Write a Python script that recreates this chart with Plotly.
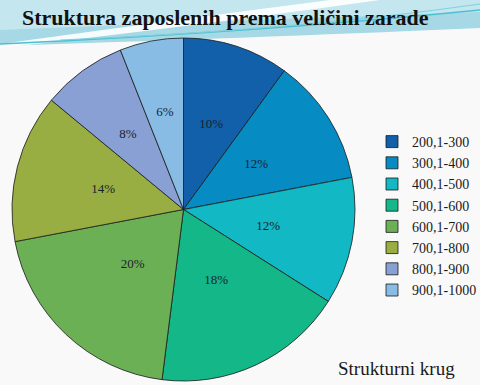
import plotly.graph_objects as go

W, H = 480, 385

categories = ["200,1-300", "300,1-400", "400,1-500", "500,1-600",
              "600,1-700", "700,1-800", "800,1-900", "900,1-1000"]
shares = [10, 12, 12, 18, 20, 14, 8, 6]
colors = ["#1260aa", "#068cc2", "#12b8c4", "#14b888",
          "#6cb056", "#98ad42", "#88a0d4", "#88bce4"]

title_text = "Struktura zaposlenih prema veličini zarade"
note_text = "Strukturni krug"

# pie geometry (pixels)
CX, CY, R = 183.5, 209.5, 171.5
R_LABEL = 118


def P(x, y):
    return f"{x / W:.4f},{1 - y / H:.4f}"


def path(pts, close=True):
    cmds = []
    for c, *xy in pts:
        if c in ("M", "L"):
            cmds.append(f"{c}{P(*xy)}")
        elif c == "Q":
            cmds.append(f"Q{P(xy[0], xy[1])} {P(xy[2], xy[3])}")
    return " ".join(cmds) + (" Z" if close else "")


def dom(r):
    return dict(x=[(CX - r) / W, (CX + r) / W],
                y=[(H - CY - r) / H, (H - CY + r) / H])


shapes = [
    dict(type="path", xref="paper", yref="paper", layer="below", line=dict(width=0),
         fillcolor="#a6d8e6",
         path=path([("M", 0, 0), ("L", 480, 0), ("L", 480, 28),
                    ("Q", 300, 36, 0, 46)])),
    dict(type="path", xref="paper", yref="paper", layer="below", line=dict(width=0),
         fillcolor="#c4e6ef",
         path=path([("M", 0, 0), ("L", 480, 0), ("L", 480, 12),
                    ("Q", 250, 20, 0, 30)])),
    dict(type="path", xref="paper", yref="paper", layer="below", line=dict(width=0),
         fillcolor="rgba(255,255,255,0.9)",
         path=path([("M", 0, 44), ("Q", 160, 22, 330, 0), ("L", 380, 0),
                    ("Q", 180, 28, 0, 48)])),
    dict(type="path", xref="paper", yref="paper", layer="below",
         line=dict(color="#4cc0d0", width=1.5),
         path=path([("M", 0, 44), ("Q", 260, 32, 480, 10)], close=False)),
    dict(type="path", xref="paper", yref="paper", layer="below",
         line=dict(color="#7fd0dc", width=1),
         path=path([("M", 60, 40), ("Q", 300, 30, 480, 4)], close=False)),
]

fig = go.Figure()
fig.add_trace(go.Pie(
    labels=categories,
    values=shares,
    sort=False,
    direction="clockwise",
    rotation=0,
    marker=dict(colors=colors, line=dict(color="#1a1a1a", width=0.8)),
    textinfo="none",
    domain=dom(R),
    showlegend=True,
    hoverinfo="label+percent",
))
# transparent inner copy that only carries the percentage labels
fig.add_trace(go.Pie(
    labels=categories,
    values=shares,
    sort=False,
    direction="clockwise",
    rotation=0,
    marker=dict(colors=["rgba(0,0,0,0)"] * len(shares), line=dict(width=0)),
    texttemplate="%{percent:.0%}",
    textposition="inside",
    insidetextorientation="horizontal",
    textfont=dict(family="Liberation Serif", size=13, color="#1a1f2e"),
    domain=dom(R_LABEL),
    showlegend=False,
    hoverinfo="skip",
))

fig.update_layout(
    width=W, height=H,
    margin=dict(l=0, r=0, t=0, b=0, autoexpand=False),
    paper_bgcolor="#f9f9f9",
    plot_bgcolor="#f9f9f9",
    shapes=shapes,
    legend=dict(
        x=372 / W, y=1 - 126 / H, xanchor="left", yanchor="top",
        font=dict(family="Liberation Serif", size=14, color="#1a1a1a"),
        bgcolor="rgba(0,0,0,0)", itemwidth=30,
    ),
    annotations=[
        dict(text=f"<b>{title_text}</b>", x=225 / W, y=1 - 17 / H,
             xref="paper", yref="paper", showarrow=False,
             xanchor="center", yanchor="middle",
             font=dict(family="Liberation Serif", size=22, color="#111111")),
        dict(text=note_text, x=396 / W, y=1 - 368 / H,
             xref="paper", yref="paper", showarrow=False,
             xanchor="center", yanchor="middle",
             font=dict(family="Liberation Serif", size=19, color="#1a1a1a")),
    ],
)

fig.write_html("out.html",
               config={"displayModeBar": False},
               post_script="document.body.style.margin='0';"
                           "document.body.style.overflow='hidden';")
